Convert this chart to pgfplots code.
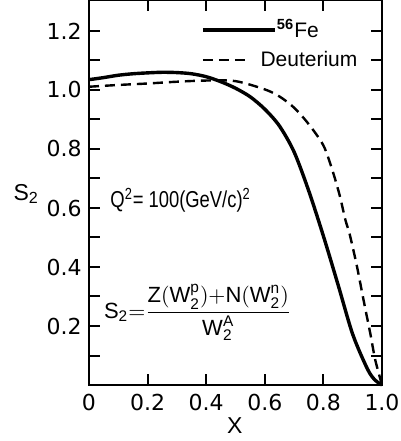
\documentclass[border=0pt]{standalone}
\usepackage{fontspec}
\setmainfont{Liberation Sans}
\newfontfamily\tickfont{DejaVu Sans}
\usepackage{amsmath}
\usepackage{pgfplots}
\pgfplotsset{compat=1.18}
\begin{document}
\begin{tikzpicture}
\fontsize{10.5}{12}\selectfont
\begin{axis}[
  name=ax, at={(0,0)}, anchor=south west,
  scale only axis, width=146.5pt, height=192.5pt,
  xmin=0, xmax=1, ymin=0, ymax=1.305,
  xtick={0,0.2,0.4,0.6,0.8,1.0},
  xticklabels={0,0.2,0.4,0.6,0.8,1.0},
  ytick={0.2,0.4,0.6,0.8,1.0,1.2},
  yticklabels={0.2,0.4,0.6,0.8,1.0,1.2},
  minor ytick={0.1,0.3,0.5,0.7,0.9,1.1},
  tick align=inside, tick pos=both,
  major tick length=5.5pt, minor tick length=5.5pt,
  every tick/.style={black, line width=1pt},
  axis line style={line width=1pt},
  tick label style={font=\tickfont\fontsize{11}{12}\selectfont},
  /pgf/number format/assume math mode=true,
  xticklabel style={yshift=-1pt},
  yticklabel style={xshift=0pt},
  clip=false,
]
\addplot[black, line width=1.7pt, smooth, tension=0.5] coordinates {
(0,1.035) (0.05,1.042) (0.1,1.05) (0.15,1.055) (0.2,1.058) (0.25,1.06)
(0.3,1.059) (0.35,1.055) (0.4,1.045) (0.45,1.028) (0.5,1.006) (0.55,0.977)
(0.6,0.935) (0.65,0.878) (0.7,0.79) (0.75,0.658) (0.8,0.505) (0.85,0.34)
(0.9,0.172) (0.95,0.055) (0.975,0.018) (1.0,0.0)};
\addplot[black, line width=1.2pt, dash pattern=on 5pt off 3pt, smooth, tension=0.5] coordinates {
(0,1.011) (0.1,1.017) (0.2,1.022) (0.3,1.028) (0.4,1.032) (0.5,1.03)
(0.6,1.002) (0.65,0.978) (0.7,0.94) (0.75,0.884) (0.8,0.812) (0.83,0.73)
(0.855,0.645) (0.875,0.56) (0.89,0.51) (0.915,0.40) (0.937,0.288)
(0.96,0.175) (0.977,0.085) (1.0,0.0)};
% legend samples
\addplot[black, line width=1.7pt, forget plot] coordinates {(0.389,1.203) (0.635,1.203)};
\addplot[black, line width=1.2pt, dash pattern=on 5pt off 3pt, forget plot] coordinates {(0.389,1.102) (0.539,1.102)};
\node[anchor=base west, inner sep=0pt] at (axis cs:0.64,1.178) {\textsuperscript{\textbf{56}}Fe};
\node[anchor=base west, inner sep=0pt] at (axis cs:0.584,1.078) {Deuterium};
% labels
\node[anchor=base west, inner sep=0pt] at (axis cs:-0.259,0.627) {\fontsize{11.5}{12}\selectfont S\textsubscript{2}};
\node[anchor=base west, inner sep=0pt] at (axis cs:0.072,0.60) {\fontsize{11.5}{12}\selectfont\scalebox{0.8}[1]{Q\textsuperscript{2}= 100(GeV/c)\textsuperscript{2}}};
\node[anchor=west, inner sep=0pt] at (axis cs:0.05,0.247) {\fontsize{11}{12}\selectfont S\textsubscript{2}${=}\dfrac{\text{Z}(\text{W}_{\text{2}}^{\text{p}}){+}\text{N}(\text{W}_{\text{2}}^{\text{n}})}{\text{W}_{\text{2}}^{\text{A}}}$};
\node[anchor=base, inner sep=0pt] at (axis cs:0.498,-0.163) {\fontsize{11.5}{12}\selectfont X};
\end{axis}
\pgfresetboundingbox
\useasboundingbox (-44.5pt,-28pt) rectangle (156pt,192.5pt);
\end{tikzpicture}
\end{document}
